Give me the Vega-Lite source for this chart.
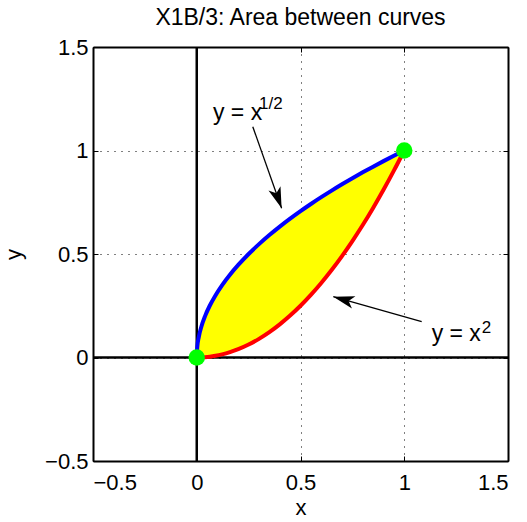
{
  "$schema": "https://vega.github.io/schema/vega-lite/v6.json",
  "width": 415,
  "height": 414,
  "autosize": {"type": "none"},
  "padding": {"left": 93, "top": 47, "right": 19, "bottom": 61},
  "background": "white",
  "title": {"text": "X1B/3: Area between curves", "fontSize": 23, "fontWeight": "normal", "font": "Liberation Sans", "color": "black", "baseline": "alphabetic", "offset": 19, "dy": 31},
  "config": {
    "view": {"stroke": null},
    "font": "Liberation Sans"
  },
  "datasets": {
    "curve": [
      {"x": 0, "ysqrt": 0, "ysq": 0},
      {"x": 0.0025, "ysqrt": 0.05, "ysq": 0.00000625},
      {"x": 0.01, "ysqrt": 0.1, "ysq": 0.0001},
      {"x": 0.0225, "ysqrt": 0.15, "ysq": 0.000506},
      {"x": 0.04, "ysqrt": 0.2, "ysq": 0.0016},
      {"x": 0.0625, "ysqrt": 0.25, "ysq": 0.0039},
      {"x": 0.09, "ysqrt": 0.3, "ysq": 0.0081},
      {"x": 0.1225, "ysqrt": 0.35, "ysq": 0.015},
      {"x": 0.16, "ysqrt": 0.4, "ysq": 0.0256},
      {"x": 0.2, "ysqrt": 0.4472, "ysq": 0.04},
      {"x": 0.25, "ysqrt": 0.5, "ysq": 0.0625},
      {"x": 0.3, "ysqrt": 0.5477, "ysq": 0.09},
      {"x": 0.35, "ysqrt": 0.5916, "ysq": 0.1225},
      {"x": 0.4, "ysqrt": 0.6325, "ysq": 0.16},
      {"x": 0.45, "ysqrt": 0.6708, "ysq": 0.2025},
      {"x": 0.5, "ysqrt": 0.7071, "ysq": 0.25},
      {"x": 0.55, "ysqrt": 0.7416, "ysq": 0.3025},
      {"x": 0.6, "ysqrt": 0.7746, "ysq": 0.36},
      {"x": 0.65, "ysqrt": 0.8062, "ysq": 0.4225},
      {"x": 0.7, "ysqrt": 0.8367, "ysq": 0.49},
      {"x": 0.75, "ysqrt": 0.866, "ysq": 0.5625},
      {"x": 0.8, "ysqrt": 0.8944, "ysq": 0.64},
      {"x": 0.85, "ysqrt": 0.922, "ysq": 0.7225},
      {"x": 0.9, "ysqrt": 0.9487, "ysq": 0.81},
      {"x": 0.95, "ysqrt": 0.9747, "ysq": 0.9025},
      {"x": 1, "ysqrt": 1, "ysq": 1}
    ],
    "zero": [{"v": 0}],
    "dots": [{"x": 0, "y": 0}, {"x": 1, "y": 1}],
    "arrows": [
      {"id": 1, "x": 0.27, "y": 1.115},
      {"id": 1, "x": 0.409, "y": 0.721},
      {"id": 2, "x": 1.084, "y": 0.173},
      {"id": 2, "x": 0.658, "y": 0.294}
    ],
    "tip1": [{"x": 0.409, "y": 0.721}],
    "tip2": [{"x": 0.658, "y": 0.294}],
    "labels": [
      {"x": 0.078, "y": 1.147, "t": "y = x"},
      {"x": 1.132, "y": 0.08, "t": "y = x"}
    ],
    "sups": [
      {"x": 0.3, "y": 1.2, "t": "1/2"},
      {"x": 1.373, "y": 0.118, "t": "2"}
    ]
  },
  "layer": [
    {
      "data": {"name": "curve"},
      "mark": {"type": "area", "color": "#ffff00", "interpolate": "monotone", "opacity": 1},
      "encoding": {
        "x": {"field": "x", "type": "quantitative", "scale": {"domain": [-0.5, 1.5], "nice": false, "zero": false},
          "axis": {"orient": "bottom", "values": [-0.5, 0, 0.5, 1, 1.5], "format": "~g", "grid": true, "gridDash": [1, 6], "gridColor": "black", "gridOpacity": 1, "gridWidth": 1,
            "domainColor": "black", "domainWidth": 2, "tickColor": "black", "tickSize": -5, "tickWidth": 1,
            "labelFontSize": 22, "labelColor": "black", "labelPadding": 16, "labelFont": "Liberation Sans",
            "title": "x", "titleFontSize": 22, "titleFontWeight": "normal", "titleColor": "black", "titlePadding": 4, "titleFont": "Liberation Sans"}},
        "y": {"field": "ysqrt", "type": "quantitative", "scale": {"domain": [-0.5, 1.5], "nice": false, "zero": false},
          "axis": {"orient": "left", "values": [-0.5, 0, 0.5, 1, 1.5], "format": "~g", "grid": true, "gridDash": [1, 6], "gridColor": "black", "gridOpacity": 1, "gridWidth": 1,
            "domainColor": "black", "domainWidth": 2, "tickColor": "black", "tickSize": -5, "tickWidth": 1,
            "labelFontSize": 22, "labelColor": "black", "labelPadding": 10, "labelFont": "Liberation Sans",
            "title": "y", "titleFontSize": 22, "titleFontWeight": "normal", "titleColor": "black", "titlePadding": 19, "titleFont": "Liberation Sans"}},
        "y2": {"field": "ysq"}
      }
    },
    {
      "data": {"name": "zero"},
      "mark": {"type": "rule", "color": "black", "strokeWidth": 2.5},
      "encoding": {
        "x": {"field": "v", "type": "quantitative", "axis": {"orient": "top", "values": [-0.5, 0, 0.5, 1, 1.5], "grid": false, "labels": false, "title": null, "minExtent": 0, "maxExtent": 0, "domainColor": "black", "domainWidth": 2, "tickColor": "black", "tickSize": -5}}
      }
    },
    {
      "data": {"name": "zero"},
      "mark": {"type": "rule", "color": "black", "strokeWidth": 2.5},
      "encoding": {
        "y": {"field": "v", "type": "quantitative", "axis": {"orient": "right", "values": [-0.5, 0, 0.5, 1, 1.5], "grid": false, "labels": false, "title": null, "minExtent": 0, "maxExtent": 0, "domainColor": "black", "domainWidth": 2, "tickColor": "black", "tickSize": -5}}
      }
    },
    {
      "data": {"name": "curve"},
      "mark": {"type": "line", "color": "#0000ff", "strokeWidth": 4, "interpolate": "monotone"},
      "encoding": {
        "x": {"field": "x", "type": "quantitative", "axis": null},
        "y": {"field": "ysqrt", "type": "quantitative", "axis": null}
      }
    },
    {
      "data": {"name": "curve"},
      "mark": {"type": "line", "color": "#ff0000", "strokeWidth": 4, "interpolate": "monotone"},
      "encoding": {
        "x": {"field": "x", "type": "quantitative", "axis": null},
        "y": {"field": "ysq", "type": "quantitative", "axis": null}
      }
    },
    {
      "data": {"name": "dots"},
      "mark": {"type": "point", "shape": "circle", "filled": true, "color": "#00ff00", "size": 270, "opacity": 1},
      "encoding": {
        "x": {"field": "x", "type": "quantitative", "axis": null},
        "y": {"field": "y", "type": "quantitative", "axis": null}
      }
    },
    {
      "data": {"name": "arrows"},
      "mark": {"type": "line", "color": "black", "strokeWidth": 1.3},
      "encoding": {
        "x": {"field": "x", "type": "quantitative", "axis": null},
        "y": {"field": "y", "type": "quantitative", "axis": null},
        "detail": {"field": "id"}
      }
    },
    {
      "data": {"name": "tip1"},
      "mark": {"type": "point", "shape": "M0,0L-0.6,2L0,1.5L0.6,2Z", "filled": true, "color": "black", "size": 450, "angle": 160.4, "opacity": 1},
      "encoding": {
        "x": {"field": "x", "type": "quantitative", "axis": null},
        "y": {"field": "y", "type": "quantitative", "axis": null}
      }
    },
    {
      "data": {"name": "tip2"},
      "mark": {"type": "point", "shape": "M0,0L-0.6,2L0,1.5L0.6,2Z", "filled": true, "color": "black", "size": 450, "angle": 285.8, "opacity": 1},
      "encoding": {
        "x": {"field": "x", "type": "quantitative", "axis": null},
        "y": {"field": "y", "type": "quantitative", "axis": null}
      }
    },
    {
      "data": {"name": "labels"},
      "mark": {"type": "text", "align": "left", "baseline": "alphabetic", "fontSize": 23, "color": "black", "font": "Liberation Sans"},
      "encoding": {
        "x": {"field": "x", "type": "quantitative", "axis": null},
        "y": {"field": "y", "type": "quantitative", "axis": null},
        "text": {"field": "t"}
      }
    },
    {
      "data": {"name": "sups"},
      "mark": {"type": "text", "align": "left", "baseline": "alphabetic", "fontSize": 17, "color": "black", "font": "Liberation Sans"},
      "encoding": {
        "x": {"field": "x", "type": "quantitative", "axis": null},
        "y": {"field": "y", "type": "quantitative", "axis": null},
        "text": {"field": "t"}
      }
    }
  ]
}
